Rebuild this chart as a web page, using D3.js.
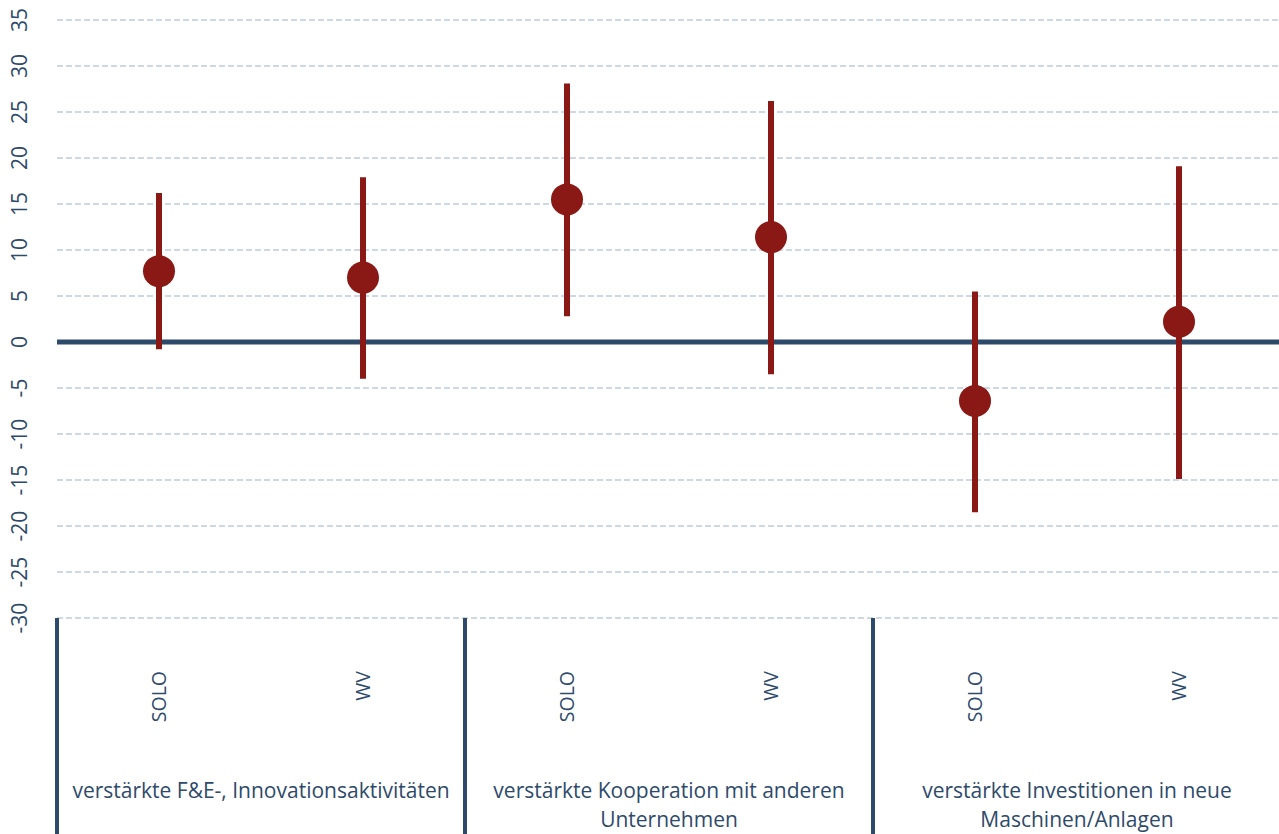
<!DOCTYPE html>
<html>
<head>
<meta charset="utf-8">
<script src="https://cdn.jsdelivr.net/npm/d3@7"></script>
<style>
  html, body { margin: 0; padding: 0; background: #fff; }
  svg { display: block; }
  text { font-family: "Open Sans", "Noto Sans", sans-serif; fill: #2E4A6B; }
</style>
</head>
<body>
<svg id="chart" width="1279" height="834"></svg>
<script>
// Groups and subgroups along the x axis
const groups = [
  ["verstärkte F&E-, Innovationsaktivitäten"],
  ["verstärkte Kooperation mit anderen", "Unternehmen"],
  ["verstärkte Investitionen in neue", "Maschinen/Anlagen"]
];
const subgroups = ["SOLO", "WV"];

// Estimates with confidence interval, in order SOLO/WV per group
const estimates = [7.7, 7.0, 15.5, 11.4, -6.4, 2.2];
const lowerBounds = [-0.8, -4.0, 2.8, -3.5, -18.5, -14.9];
const upperBounds = [16.2, 17.9, 28.1, 26.2, 5.5, 19.1];

const yTicks = [-30, -25, -20, -15, -10, -5, 0, 5, 10, 15, 20, 25, 30, 35];

const svg = d3.select("#chart");
const plotLeft = 57, plotRight = 1281, plotTop = 20, plotBottom = 618;

const slots = d3.range(groups.length * subgroups.length);
const x = d3.scaleBand().domain(slots).range([plotLeft, plotRight]);
const xGroup = d3.scaleBand().domain(d3.range(groups.length)).range([plotLeft, plotRight]);
const y = d3.scaleLinear().domain([-30, 35]).range([plotBottom, plotTop]);

// Dashed horizontal gridlines
svg.append("g")
  .selectAll("line")
  .data(yTicks.filter(t => t !== 0))
  .join("line")
  .attr("x1", plotLeft).attr("x2", 1279)
  .attr("y1", d => y(d)).attr("y2", d => y(d))
  .attr("stroke", "#BFCCDA")
  .attr("stroke-width", 1.5)
  .attr("stroke-dasharray", "6,3");

// Y axis labels, rotated, with a plain hyphen as minus sign
const yAxis = svg.append("g")
  .attr("transform", `translate(${plotLeft},0)`)
  .call(d3.axisLeft(y).tickValues(yTicks).tickSize(0).tickPadding(0)
    .tickFormat(d => String(d)));
yAxis.select(".domain").remove();
yAxis.attr("font-size", null).attr("font-family", null);
yAxis.selectAll(".tick").attr("transform", null);
yAxis.selectAll(".tick text")
  .attr("x", 0).attr("y", 0)
  .attr("transform", d => `translate(${-37},${y(d)}) rotate(-90)`)
  .attr("dy", "0.35em")
  .attr("text-anchor", "middle")
  .attr("fill", "#2E4A6B")
  .style("font-size", "21px");

// Zero line
svg.append("line")
  .attr("x1", plotLeft).attr("x2", 1279)
  .attr("y1", y(0)).attr("y2", y(0))
  .attr("stroke", "#2E4A6B")
  .attr("stroke-width", 5);

// Group dividers on the category axis
svg.append("g")
  .selectAll("line")
  .data(d3.range(groups.length))
  .join("line")
  .attr("x1", d => xGroup(d)).attr("x2", d => xGroup(d))
  .attr("y1", plotBottom).attr("y2", 834)
  .attr("stroke", "#2E4A6B")
  .attr("stroke-width", 4);

// Subgroup labels
svg.append("g")
  .selectAll("text")
  .data(slots)
  .join("text")
  .attr("transform", d => `translate(${x(d) + x.bandwidth() / 2 + 7},671) rotate(-90)`)
  .attr("text-anchor", "end")
  .style("font-size", "19.5px")
  .text(d => subgroups[d % subgroups.length]);

// Group labels
const groupLabels = svg.append("g")
  .selectAll("text")
  .data(groups)
  .join("text")
  .attr("x", (d, i) => xGroup(i) + xGroup.bandwidth() / 2)
  .attr("y", 798)
  .attr("text-anchor", "middle")
  .style("font-size", "21px");
groupLabels.each(function (lines, i) {
  const cx = xGroup(i) + xGroup.bandwidth() / 2;
  d3.select(this).selectAll("tspan")
    .data(lines)
    .join("tspan")
    .attr("x", cx)
    .attr("dy", (d, j) => j === 0 ? 0 : 29)
    .text(d => d);
});

// Confidence intervals
const marks = svg.append("g");
marks.selectAll("line")
  .data(slots)
  .join("line")
  .attr("x1", d => x(d) + x.bandwidth() / 2)
  .attr("x2", d => x(d) + x.bandwidth() / 2)
  .attr("y1", d => y(lowerBounds[d]))
  .attr("y2", d => y(upperBounds[d]))
  .attr("stroke", "#8A1915")
  .attr("stroke-width", 6);

// Point estimates
marks.selectAll("circle")
  .data(slots)
  .join("circle")
  .attr("cx", d => x(d) + x.bandwidth() / 2)
  .attr("cy", d => y(estimates[d]))
  .attr("r", 16)
  .attr("fill", "#8A1915");
</script>
</body>
</html>
